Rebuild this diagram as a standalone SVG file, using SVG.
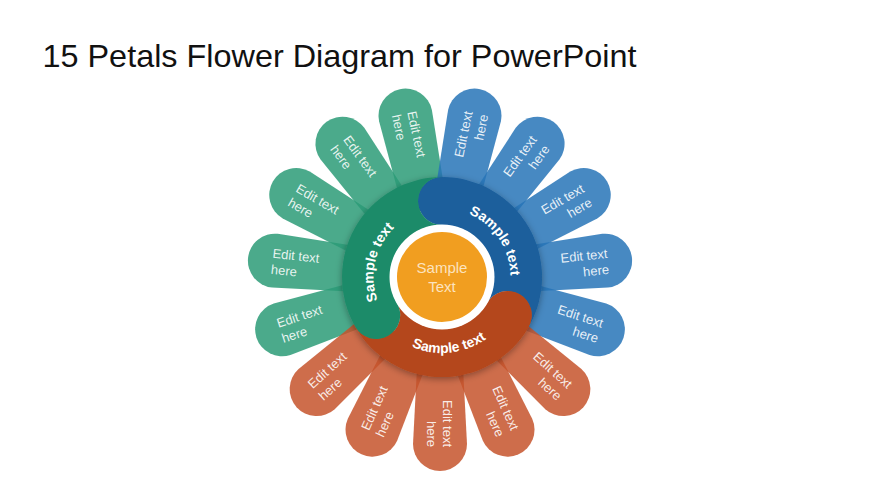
<svg xmlns="http://www.w3.org/2000/svg" xmlns:xlink="http://www.w3.org/1999/xlink" width="870" height="489" viewBox="0 0 870 489">
  <defs>
    <style>
      .title { font-family: "Liberation Sans", Arial, sans-serif; font-size: 30.5px; fill: #111111; }
      .pg { fill: #2C9B77; fill-opacity: 0.85; }
      .pb { fill: #2774B7; fill-opacity: 0.85; }
      .po { fill: #C6542C; fill-opacity: 0.85; }
      .pt { font-family: "Liberation Sans", Arial, sans-serif; font-size: 13px; fill: #FFFFFF; fill-opacity: 0.88; }
      .in { text-anchor: start; }
      .out { text-anchor: end; }
      .rt { font-family: "Liberation Sans", Arial, sans-serif; font-size: 14px; font-weight: bold; fill: #FFFFFF; }
      .ct { font-family: "Liberation Sans", Arial, sans-serif; font-size: 15px; fill: #FCE3BF; text-anchor: middle; }
    </style>
    <path id="petalShape" d="M -22 -70 L -27 -166 A 27 27 0 0 1 27 -166 L 22 -70 Z"/>
    <filter id="ringShadow" x="-30%" y="-30%" width="160%" height="160%">
      <feDropShadow dx="0" dy="2" stdDeviation="3.5" flood-color="#000000" flood-opacity="0.35"/>
    </filter>
    <path id="arcBlue" d="M 437.22 208.67 A 68.5 68.5 0 0 1 503.57 307.03"/>
    <path id="arcGreen" d="M 395.28 327.10 A 68.5 68.5 0 0 1 421.97 211.49"/>
    <path id="arcOrange" d="M 380.51 321.67 A 76 76 0 0 0 511.43 307.91"/>
  </defs>

  <rect x="0" y="0" width="870" height="489" fill="#FFFFFF"/>

  <text id="title" class="title" x="42.5" y="66.5" textLength="594" lengthAdjust="spacingAndGlyphs">15 Petals Flower Diagram for PowerPoint</text>

  <g id="connectors"/>

  <!-- Green petals -->
  <g id="petal-g1" transform="translate(440,278) rotate(252)">
    <use xlink:href="#petalShape" class="pg"/>
    <g transform="rotate(90)"><text class="pt in" x="-169" y="-2.5">Edit text</text><text class="pt in" x="-169" y="13.5">here</text></g>
  </g>
  <g id="petal-g2" transform="translate(440,278) rotate(276)">
    <use xlink:href="#petalShape" class="pg"/>
    <g transform="rotate(90)"><text class="pt in" x="-169" y="-2.5">Edit text</text><text class="pt in" x="-169" y="13.5">here</text></g>
  </g>
  <g id="petal-g3" transform="translate(440,278) rotate(300)">
    <use xlink:href="#petalShape" class="pg"/>
    <g transform="rotate(90)"><text class="pt in" x="-169" y="-2.5">Edit text</text><text class="pt in" x="-169" y="13.5">here</text></g>
  </g>
  <g id="petal-g4" transform="translate(440,278) rotate(324)">
    <use xlink:href="#petalShape" class="pg"/>
    <g transform="rotate(90)"><text class="pt in" x="-169" y="-2.5">Edit text</text><text class="pt in" x="-169" y="13.5">here</text></g>
  </g>
  <g id="petal-g5" transform="translate(440,278) rotate(348)">
    <use xlink:href="#petalShape" class="pg"/>
    <g transform="rotate(90)"><text class="pt in" x="-169" y="-2.5">Edit text</text><text class="pt in" x="-169" y="13.5">here</text></g>
  </g>

  <!-- Blue petals -->
  <g id="petal-b1" transform="translate(440,278) rotate(12)">
    <use xlink:href="#petalShape" class="pb"/>
    <g transform="rotate(-90)"><text class="pt out" x="169" y="-2.5">Edit text</text><text class="pt out" x="169" y="13.5">here</text></g>
  </g>
  <g id="petal-b2" transform="translate(440,278) rotate(36)">
    <use xlink:href="#petalShape" class="pb"/>
    <g transform="rotate(-90)"><text class="pt out" x="169" y="-2.5">Edit text</text><text class="pt out" x="169" y="13.5">here</text></g>
  </g>
  <g id="petal-b3" transform="translate(440,278) rotate(60)">
    <use xlink:href="#petalShape" class="pb"/>
    <g transform="rotate(-90)"><text class="pt out" x="169" y="-2.5">Edit text</text><text class="pt out" x="169" y="13.5">here</text></g>
  </g>
  <g id="petal-b4" transform="translate(440,278) rotate(84)">
    <use xlink:href="#petalShape" class="pb"/>
    <g transform="rotate(-90)"><text class="pt out" x="169" y="-2.5">Edit text</text><text class="pt out" x="169" y="13.5">here</text></g>
  </g>
  <g id="petal-b5" transform="translate(440,278) rotate(108)">
    <use xlink:href="#petalShape" class="pb"/>
    <g transform="rotate(-90)"><text class="pt out" x="169" y="-2.5">Edit text</text><text class="pt out" x="169" y="13.5">here</text></g>
  </g>

  <!-- Orange petals -->
  <g id="petal-o1" transform="translate(440,278) rotate(132)">
    <use xlink:href="#petalShape" class="po"/>
    <g transform="rotate(-90)"><text class="pt out" x="169" y="-2.5">Edit text</text><text class="pt out" x="169" y="13.5">here</text></g>
  </g>
  <g id="petal-o2" transform="translate(440,278) rotate(156)">
    <use xlink:href="#petalShape" class="po"/>
    <g transform="rotate(-90)"><text class="pt out" x="169" y="-2.5">Edit text</text><text class="pt out" x="169" y="13.5">here</text></g>
  </g>
  <g id="petal-o3" transform="translate(440,278) rotate(180)">
    <use xlink:href="#petalShape" class="po"/>
    <g transform="rotate(-90)"><text class="pt out" x="169" y="-2.5">Edit text</text><text class="pt out" x="169" y="13.5">here</text></g>
  </g>
  <g id="petal-o4" transform="translate(440,278) rotate(204)">
    <use xlink:href="#petalShape" class="po"/>
    <g transform="rotate(90)"><text class="pt in" x="-169" y="-2.5">Edit text</text><text class="pt in" x="-169" y="13.5">here</text></g>
  </g>
  <g id="petal-o5" transform="translate(440,278) rotate(228)">
    <use xlink:href="#petalShape" class="po"/>
    <g transform="rotate(90)"><text class="pt in" x="-169" y="-2.5">Edit text</text><text class="pt in" x="-169" y="13.5">here</text></g>
  </g>

  <!-- Ring segments -->
  <g id="ring" filter="url(#ringShadow)">
    <path id="ring-blue" fill="#1B5F9C" d="M 442 177 A 100 100 0 0 1 528.60 327 A 24 24 0 0 0 487.03 303 A 52 52 0 0 0 442 225 A 24 24 0 0 1 442 177 Z"/>
    <path id="ring-orange" fill="#B4461A" d="M 528.60 327 A 100 100 0 0 1 355.40 327 A 24 24 0 0 0 396.97 303 A 52 52 0 0 0 487.03 303 A 24 24 0 0 1 528.60 327 Z"/>
    <path id="ring-green" fill="#1E8B69" d="M 355.40 327 A 100 100 0 0 1 442 177 A 24 24 0 0 0 442 225 A 52 52 0 0 0 396.97 303 A 24 24 0 0 1 355.40 327 Z"/>
  </g>
  <g id="ring-labels">
    <text class="rt" text-anchor="middle"><textPath xlink:href="#arcBlue" startOffset="50%">Sample text</textPath></text>
    <text class="rt" text-anchor="middle"><textPath xlink:href="#arcGreen" startOffset="50%">Sample text</textPath></text>
    <text class="rt" text-anchor="middle"><textPath xlink:href="#arcOrange" startOffset="50%">Sample text</textPath></text>
  </g>

  <!-- Center -->
  <g id="center">
    <circle cx="442" cy="277" r="52.5" fill="#FFFFFF"/>
    <circle cx="442" cy="277" r="45" fill="#F19E20"/>
    <text class="ct" x="442" y="272.5">Sample</text>
    <text class="ct" x="442" y="291.5">Text</text>
  </g>
</svg>
